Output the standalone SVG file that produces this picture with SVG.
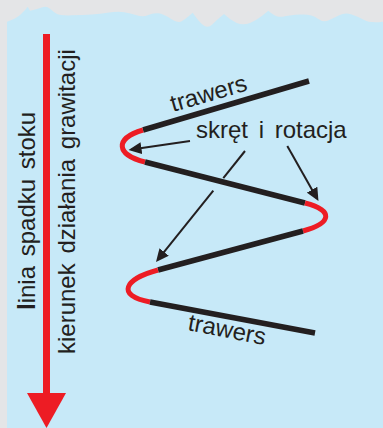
<svg xmlns="http://www.w3.org/2000/svg" width="383" height="428" viewBox="0 0 383 428">
<style>
text{font-family:"Liberation Sans",Arial,Helvetica,sans-serif;font-size:24px;fill:#231f20;}
.trav{fill:none;stroke:#231f20;stroke-width:5.5;stroke-linecap:butt;}
.turn{fill:none;stroke:#ed1c24;stroke-width:5;stroke-linecap:butt;}
.ptr{fill:none;stroke:#231f20;stroke-width:2;}
</style>
<defs>
<marker id="ah" markerUnits="userSpaceOnUse" markerWidth="13" markerHeight="12" refX="10" refY="6" orient="auto" viewBox="0 0 13 12">
<path d="M0,0 L13,6 L0,12 Z" fill="#231f20"/>
</marker>
</defs>
<rect x="0" y="0" width="383" height="428" fill="#e4e5e7"/>
<path id="slope" fill="#c7e9f8" d="M7,21.7 Q16.7,18.3 20.9,14.2 Q25,10 26.4,8.4 L27.7,6.7 L30,10.7 Q36.7,9.3 41.7,7.5 Q46.7,5.7 50,8.7 Q53.3,11.7 56.7,13.7 Q60,15.7 71.7,15.35 Q83.3,15 91.7,14.5 Q100,14 109.2,12.5 Q118.3,11 124.2,12.2 Q130,13.3 136.7,15.3 Q143.3,17.3 148.3,15 Q153.3,12.7 158.3,13.35 Q163.3,14 170.8,18.65 Q178.3,23.3 181.7,21.3 Q185,19.3 188.9,16 L192.7,12.7 Q200,23.3 204.2,25.8 Q208.3,28.3 212.5,24.2 Q216.7,20 220.4,17 L224,14 Q230,20 236.7,22.9 Q243.3,25.7 250,22.9 Q256.7,20 262.5,15.4 L268.3,10.7 Q273.3,15 276.7,16.2 Q280,17.3 285,16.2 Q290,15 300.9,14.5 Q311.7,14 317.5,18.4 Q323.3,22.7 328.3,20.5 Q333.3,18.3 339.2,15.3 Q345,12.3 351.7,14.5 Q358.3,16.7 364.2,20 Q370,23.3 383,21.7 L383,428 L7,428 Z"/>
<g id="fall-line">
<line x1="46.5" y1="34" x2="46.5" y2="395" stroke="#ed1c24" stroke-width="7"/>
<path d="M27,393 L66,393 L46.5,428 Z" fill="#ed1c24"/>
<text transform="translate(35,310) rotate(-90)" word-spacing="3"><tspan font-weight="bold">l</tspan>inia spadku stoku</text>
<text transform="translate(75,354) rotate(-90)" word-spacing="3">kierunek działania grawitacji</text>
</g>
<g id="traverse-1">
<path class="trav" d="M309,81 L143,130"/>
<text transform="translate(173,112) rotate(-16)">trawers</text>
</g>
<g id="turn-1"><path class="turn" d="M143,130 C114.2,138.5 115.9,154.7 145,162"/></g>
<g id="traverse-2"><path class="trav" d="M145,162 L305,203"/></g>
<g id="turn-2"><path class="turn" d="M305,203 C334,210.4 332,223.2 303,231"/></g>
<g id="traverse-3"><path class="trav" d="M303,231 L158,270"/></g>
<g id="turn-3"><path class="turn" d="M158,270 C124.2,279.1 115.6,295.5 150,302"/></g>
<g id="traverse-4">
<path class="trav" d="M150,302 L315,333"/>
<text transform="translate(187,330) rotate(11)">trawers</text>
</g>
<g id="label-turn">
<text x="196" y="137.5" word-spacing="4">skręt i rotacja</text>
</g>
<g id="connectors">
<line class="ptr" x1="190" y1="141" x2="131.5" y2="149.6" marker-end="url(#ah)"/>
<line class="ptr" x1="287.3" y1="146" x2="317" y2="198.4" marker-end="url(#ah)"/>
<line class="ptr" x1="245" y1="151" x2="223.3" y2="178.1"/>
<line class="ptr" x1="213.3" y1="190.6" x2="157.9" y2="259.7" marker-end="url(#ah)"/>
</g>
</svg>
